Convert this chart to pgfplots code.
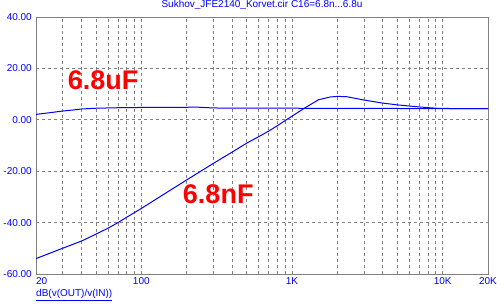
\documentclass[border=0pt]{standalone}
\usepackage{pgfplots}
\pgfplotsset{compat=1.18}
\usepackage{fontspec}
\setmainfont{Liberation Sans}
\definecolor{mcblue}{HTML}{0000FF}
\definecolor{gridgray}{HTML}{808080}
\begin{document}
\begin{tikzpicture}
\begin{axis}[
  at={(0,0)}, anchor=south west,
  scale only axis, width=452pt, height=257pt,
  xmode=log, xmin=20, xmax=20000, ymin=-60, ymax=40,
  xtick={20,100,1000,10000,20000},
  xticklabels={\hphantom{20}20,100,1K,10K,20K},
  minor xtick={30,40,50,60,70,80,90,200,300,400,500,600,700,800,900,2000,3000,4000,5000,6000,7000,8000,9000},
  ytick={-60,-40,-20,0,20,40},
  yticklabels={-60.00,-40.00,-20.00,0.00,20.00,40.00},
  major tick length=0pt, minor tick length=0pt,
  grid=both,
  major grid style={gridgray, line width=0.7pt, dash pattern=on 3pt off 3pt},
  minor grid style={gridgray, line width=0.7pt, dash pattern=on 3pt off 3pt},
  axis line style={gridgray, line width=0.9pt},
  tick label style={font=\fontsize{10}{12}\selectfont, text=mcblue, inner sep=0pt},
  xticklabel style={anchor=north, yshift=-3.5pt},
  yticklabel style={anchor=east, xshift=-4pt},
  title={Sukhov\_JFE2140\_Korvet.cir C16=6.8n...6.8u},
  title style={at={(0.5,1)}, anchor=base, yshift=3pt, font=\fontsize{10}{12}\selectfont, text=mcblue, inner sep=0pt},
  xlabel={\underline{dB(v(OUT)/v(IN))}},
  xlabel style={at={(0,0)}, anchor=base west, yshift=-23pt, font=\fontsize{10}{12}\selectfont, text=mcblue, inner sep=0pt},
]
\addplot[mcblue, line width=1pt] coordinates {
(20,2.1) (25,2.8) (30,3.4) (35,3.8) (40,4.2) (50,4.5) (70,4.7) (100,4.8) (240,4.9) (300,4.6) (500,4.5) (1000,4.5) (2000,4.45) (5000,4.4) (10000,4.3) (20000,4.3)
};
\addplot[mcblue, line width=1pt] coordinates {
(20,-54.0) (25,-51.8) (30,-50.0) (40,-47.2) (50,-44.5) (60,-42.2) (70,-40.0) (80,-37.9) (100,-34.5) (150,-28.0) (200,-23.4) (300,-17.0) (400,-12.6) (500,-9.1) (600,-6.6) (700,-4.4) (800,-2.3) (900,-0.3) (1000,1.4) (1200,4.4) (1500,7.8) (1800,8.9) (2000,9.1) (2300,9.0) (3000,7.7) (4000,6.5) (5000,5.8) (7000,5.0) (9000,4.5) (12000,4.35) (15000,4.3) (20000,4.3)
};
\node[text=red, font=\fontsize{27}{30}\selectfont\bfseries] at (axis cs:55.7,15.5) {6.8uF};
\node[text=red, font=\fontsize{27}{30}\selectfont\bfseries] at (axis cs:324,-28.9) {6.8nF};
\end{axis}
\pgfresetboundingbox
\useasboundingbox (-36pt,-29pt) rectangle (468pt,274pt);
\end{tikzpicture}
\end{document}
